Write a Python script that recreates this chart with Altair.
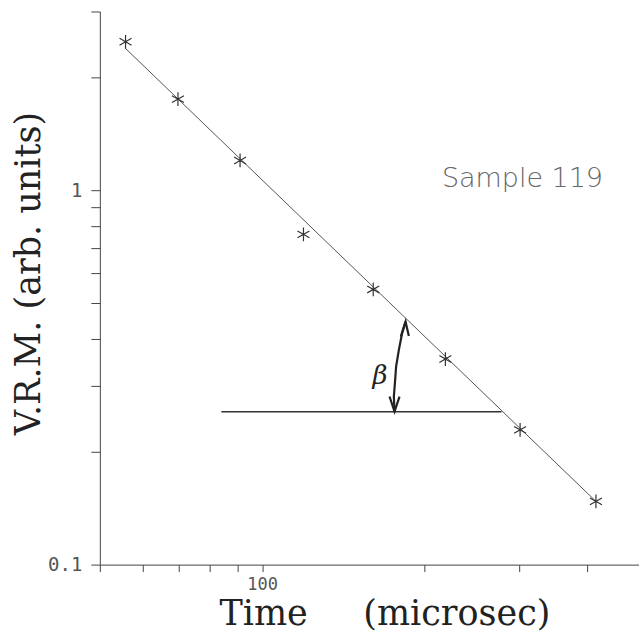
import altair as alt
import pandas as pd

# measured points (Time in microsec, V.R.M. arb. units)
time_us = [55.8, 69.8, 91.0, 119.3, 160.7, 218.7, 300.9, 416.0]
vrm = [2.49, 1.75, 1.20, 0.762, 0.543, 0.354, 0.229, 0.1475]

# fitted straight line (log-log)
fit_time = [55.8, 416.0]
fit_vrm = [2.39, 0.1475]

# horizontal reference line for the angle
ref_time = [84.0, 278.0]
ref_vrm = [0.256, 0.256]

# angle arc and its arrow heads
arc_time = [176.0, 175.5, 176.3, 177.2, 179.3, 181.8, 184.5]
arc_vrm = [0.2564, 0.2811, 0.3052, 0.3379, 0.3745, 0.4148, 0.4454]
head_lo_time = [172.3, 176.0, 179.8]
head_lo_vrm = [0.2811, 0.2564, 0.2811]
head_hi_time = [180.8, 184.5, 187.1]
head_hi_vrm = [0.4063, 0.4454, 0.4081]

# axis ticks
x_ticks = [50, 60, 70, 80, 90, 100, 200, 300, 400, 500]
y_ticks = [0.1, 0.2, 0.3, 0.4, 0.5, 0.6, 0.7, 0.8, 0.9, 1, 2, 3]

# annotations
sample_label = "Sample 119"
sample_pos = (304.0, 1.019)
beta_label = "β"
beta_pos = (165.5, 0.318)

pts = pd.DataFrame({"t": time_us, "v": vrm})
fit = pd.DataFrame({"t": fit_time, "v": fit_vrm})
ref = pd.DataFrame({"t": ref_time, "v": ref_vrm})
arrow = pd.DataFrame({
    "t": arc_time + head_lo_time + head_hi_time,
    "v": arc_vrm + head_lo_vrm + head_hi_vrm,
    "part": ["arc"] * len(arc_time) + ["lo"] * 3 + ["hi"] * 3,
    "o": list(range(len(arc_time))) + [0, 1, 2] + [0, 1, 2],
})
sample_df = pd.DataFrame({"t": [sample_pos[0]], "v": [sample_pos[1]], "label": [sample_label]})
beta_df = pd.DataFrame({"t": [beta_pos[0]], "v": [beta_pos[1]], "label": [beta_label]})

x_enc = alt.X(
    "t:Q",
    scale=alt.Scale(type="log", domain=[50, 500], nice=False, zero=False),
    axis=alt.Axis(
        title="Time\u00a0\u00a0\u00a0\u00a0\u00a0(microsec)",
        values=x_ticks,
        labelExpr="datum.value == 100 ? '100' : ''",
        grid=False,
        tickSize=7,
        tickColor="#444",
        domainColor="#444",
        labelFont="DejaVu Sans Mono",
        labelFontSize=17,
        labelColor="#555",
        labelPadding=5,
        labelOverlap=False,
        labelFlush=False,
        titleFont="DejaVu Serif",
        titleFontSize=35,
        titleFontWeight="normal",
        titleColor="#222",
        titleX=285,
        titleY=60,
        titleAlign="center",
        titleBaseline="alphabetic",
    ),
)
y_enc = alt.Y(
    "v:Q",
    scale=alt.Scale(type="log", domain=[0.1, 3], nice=False, zero=False),
    axis=alt.Axis(
        title="V.R.M. (arb. units)",
        values=y_ticks,
        labelExpr="datum.value == 1 ? '1' : (abs(datum.value - 0.1) < 1e-9 ? '0.1' : '')",
        grid=False,
        tickSize=9,
        tickColor="#444",
        domainColor="#444",
        labelFont="DejaVu Sans Mono",
        labelFontSize=19,
        labelColor="#555",
        labelPadding=9,
        labelOverlap=False,
        labelFlush=False,
        labelBaseline="middle",
        titleFont="DejaVu Serif",
        titleFontSize=35,
        titleFontWeight="normal",
        titleColor="#222",
        titleAngle=270,
        titleX=-60,
        titleY=262,
        titleAlign="center",
        titleBaseline="alphabetic",
    ),
)

fit_line = alt.Chart(fit).mark_line(color="#555", strokeWidth=1).encode(x=x_enc, y=y_enc)
ref_line = alt.Chart(ref).mark_line(color="#333", strokeWidth=1.6).encode(x=x_enc, y=y_enc)
arrow_line = alt.Chart(arrow).mark_line(
    color="#222", strokeWidth=2.2, interpolate="linear"
).encode(x=x_enc, y=y_enc, detail="part:N", order="o:Q")
stars = alt.Chart(pts).mark_point(
    shape="M0,-1L0,1M-0.87,-0.5L0.87,0.5M-0.87,0.5L0.87,-0.5",
    filled=False,
    size=190,
    color="#333",
    strokeWidth=1.2,
    opacity=1,
).encode(x=x_enc, y=y_enc)
sample_text = alt.Chart(sample_df).mark_text(
    font="DejaVu Sans", fontSize=27, fontWeight=200, color="#666",
    align="center", baseline="alphabetic",
).encode(x=x_enc, y=y_enc, text="label:N")
beta_text = alt.Chart(beta_df).mark_text(
    font="DejaVu Serif", fontSize=26, fontStyle="italic", color="#222",
    align="center", baseline="middle",
).encode(x=x_enc, y=y_enc, text="label:N")

chart = alt.layer(
    fit_line, ref_line, arrow_line, stars, sample_text, beta_text
).properties(
    width=540,
    height=554,
    autosize=alt.AutoSizeParams(type="none"),
    padding={"left": 100, "top": 11, "right": 0, "bottom": 68},
    background="white",
).configure_view(stroke=None)

chart.save("out.html", embed_options={"renderer": "svg", "actions": False})
